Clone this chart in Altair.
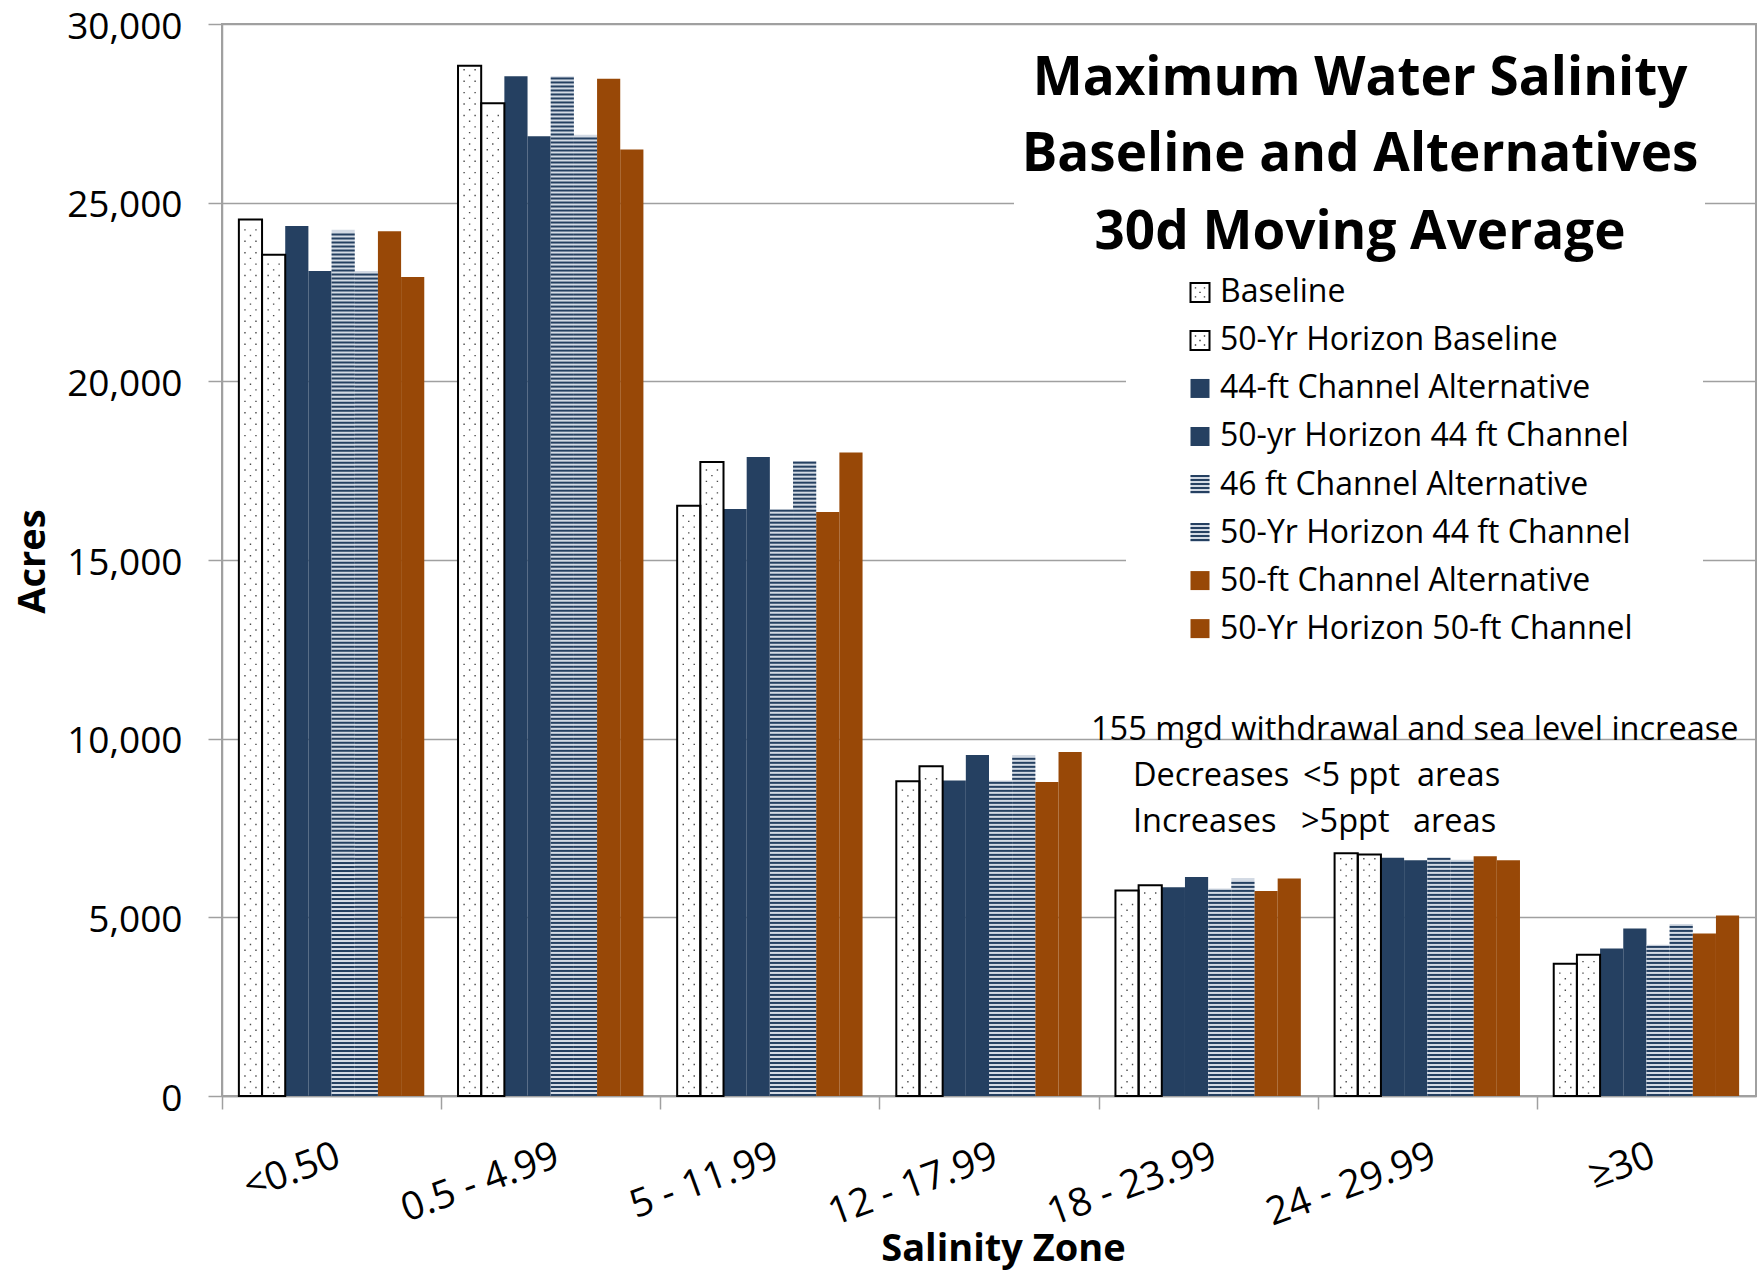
import altair as alt
import pandas as pd

# ---- data -------------------------------------------------------------
zones = ["<0.50", "0.5 - 4.99", "5 - 11.99", "12 - 17.99", "18 - 23.99", "24 - 29.99", "≥30"]

series = [
    "Baseline",
    "50-Yr Horizon Baseline",
    "44-ft Channel Alternative",
    "50-yr Horizon 44 ft Channel",
    "46 ft Channel Alternative",
    "50-Yr Horizon 44 ft Channel",
    "50-ft Channel Alternative",
    "50-Yr Horizon 50-ft Channel",
]

baseline = [24530, 28830, 16520, 8810, 5750, 6790, 3700]
baseline_50yr = [23540, 27780, 17740, 9230, 5900, 6760, 3950]
ch44 = [24350, 28540, 16430, 8830, 5840, 6670, 4130]
ch44_50yr = [23090, 26860, 17880, 9540, 6130, 6600, 4690]
ch46 = [24240, 28540, 16410, 8830, 5810, 6670, 4230]
ch44_50yr_b = [23090, 26900, 17770, 9540, 6100, 6610, 4810]
ch50 = [24200, 28470, 16340, 8790, 5740, 6710, 4550]
ch50_50yr = [22920, 26490, 18010, 9630, 6090, 6600, 5050]

y_ticks = [0, 5000, 10000, 15000, 20000, 25000, 30000]

title_lines = ["Maximum Water Salinity", "Baseline and Alternatives", "30d Moving Average"]

# ---- styling ----------------------------------------------------------
NAVY = "#254061"
BROWN = "#984807"
LIGHT = "#d3dae4"
GRID = "#a0a0a0"
FONT = "Open Sans"

fill_range = ["white", "white", NAVY, NAVY, LIGHT, LIGHT, BROWN, BROWN]
dotted = series[0:2]
striped = series[4:6]

W, H = 1534, 1072

all_values = [baseline, baseline_50yr, ch44, ch44_50yr, ch46, ch44_50yr_b, ch50, ch50_50yr]
df = pd.DataFrame(
    [
        {"zone": z, "series": s, "acres": v}
        for s, vals in zip(series, all_values)
        for z, v in zip(zones, vals)
    ]
)

# ---- scales / encodings -------------------------------------------------
x_scale = alt.Scale(domain=zones, paddingInner=0.154, paddingOuter=0.077)
half_gap = round(0.154 * (W / 7.0) / 2, 2)

x_axis = alt.Axis(
    title="Salinity Zone",
    titleFont=FONT, titleFontSize=38, titleFontWeight="bold", titleColor="black",
    titleX=781, titleY=164, titleAlign="center", titleBaseline="alphabetic", titleAngle=0,
    labelFont=FONT, labelFontSize=39, labelColor="black",
    labelAngle=340, labelAlign="right", labelBaseline="top",
    labelPadding=27, labelLimit=400, labelOverlap=False,
    bandPosition=0, tickOffset=-half_gap, labelOffset=half_gap,
    tickSize=13, tickColor=GRID, tickWidth=1.5,
    domainColor=GRID, domainWidth=1.5, grid=False,
)

y_scale = alt.Scale(domain=[0, 30000], nice=False)
y_axis = alt.Axis(
    title="Acres", values=y_ticks, format=",d",
    titleFont=FONT, titleFontSize=38, titleFontWeight="bold", titleColor="black",
    titleAngle=270, titleX=-178, titleY=537, titleAlign="center", titleBaseline="alphabetic",
    labelFont=FONT, labelFontSize=37, labelColor="black", labelPadding=26, labelOffset=3,
    tickSize=14, tickColor=GRID, tickWidth=1.5,
    domainColor=GRID, domainWidth=1.5,
    grid=True, gridColor=GRID, gridWidth=1.3,
)

# every plot layer carries the same axis definitions so the shared axes merge cleanly
x_enc = alt.X("zone:N", scale=x_scale, axis=x_axis)
y_enc = alt.Y("acres:Q", scale=y_scale, axis=y_axis, stack=None)
x_off = alt.XOffset("series:N", scale=alt.Scale(domain=series, paddingInner=0, paddingOuter=0))
fill_enc = alt.Fill("series:N", scale=alt.Scale(domain=series, range=fill_range), legend=None)


def dot(cx, cy, s=1.4):
    return f"M{cx - s / 2:.2f},{cy - s / 2:.2f}h{s}v{s}h-{s}Z"


# stipple tile (two staggered rows) and stripe/dot legend swatches, in pixel units (size=4)
stipple = " ".join([dot(-5.5, -2.85), dot(5.5, -2.85), dot(0, 2.85)])
swatch_dots = " ".join([dot(-4.5, -4.5), dot(4.5, -4.5), dot(0, 0), dot(-4.5, 4.5), dot(4.5, 4.5)])
swatch_stripes = " ".join([f"M-9.5,{y}h19v2h-19Z" for y in (-9.5, -5.5, -1.5, 2.5, 6.5)])

# ---- plot layers --------------------------------------------------------
bars = alt.Chart(df).mark_bar().encode(x=x_enc, xOffset=x_off, y=y_enc, fill=fill_enc)

# horizontal navy stripes, 2 px every 4 px, inside the striped bars
stripes = (
    alt.Chart(df)
    .transform_filter(alt.FieldOneOfPredicate(field="series", oneOf=striped))
    .transform_calculate(acres="sequence(0, datum.acres - 56, 112)")
    .transform_flatten(["acres"])
    .transform_calculate(top="datum.acres + 56")
    .mark_bar(color=NAVY)
    .encode(x=x_enc, xOffset=x_off, y=y_enc, y2="top:Q")
)

# stipple inside the two baseline bars
dots = (
    alt.Chart(df)
    .transform_filter(alt.FieldOneOfPredicate(field="series", oneOf=dotted))
    .transform_calculate(acres="sequence(160, datum.acres - 150, 320)")
    .transform_flatten(["acres"])
    .mark_point(shape=stipple, filled=True, size=4, color="#4a4a4a", opacity=1, strokeWidth=0)
    .encode(x=x_enc, xOffset=x_off, y=y_enc)
)

outlines = (
    alt.Chart(df)
    .transform_filter(alt.FieldOneOfPredicate(field="series", oneOf=dotted))
    .mark_bar(fillOpacity=0, stroke="black", strokeWidth=2)
    .encode(x=x_enc, xOffset=x_off, y=y_enc)
)

# ---- title / legend backgrounds and text ---------------------------------
one = pd.DataFrame({"k": [0]})

boxes = [
    alt.Chart(one).mark_rect(color="white").encode(
        x=alt.value(792), x2=alt.value(1483), y=alt.value(10), y2=alt.value(246)
    ),
    alt.Chart(one).mark_rect(color="white").encode(
        x=alt.value(904), x2=alt.value(1481), y=alt.value(244), y2=alt.value(634)
    ),
]

title_marks = [
    alt.Chart(one).mark_text(
        font=FONT, fontSize=53, fontWeight="bold", color="black", align="center", baseline="alphabetic"
    ).encode(x=alt.value(1138), y=alt.value(yy), text=alt.value(t))
    for t, yy in zip(title_lines, [70.5, 147, 225])
]

note_pieces = [
    ("155 mgd withdrawal and sea level increase", 869, 716),
    ("Decreases", 911, 762),
    ("<5 ppt", 1081, 762),
    ("areas", 1195, 762),
    ("Increases", 911, 808),
    (">5ppt", 1079, 808),
    ("areas", 1191, 808),
]
note_marks = [
    alt.Chart(one).mark_text(
        font=FONT, fontSize=32.5, color="black", align="left", baseline="alphabetic"
    ).encode(x=alt.value(xx), y=alt.value(yy), text=alt.value(t))
    for t, xx, yy in note_pieces
]

# ---- legend (one swatch + label per series) ------------------------------
LEG_X, LEG_TEXT_X, LEG_TOP, LEG_STEP = 978, 998, 268.4, 48.03
legend_marks = []
for i, (name, colour) in enumerate(zip(series, fill_range)):
    yy = LEG_TOP + i * LEG_STEP
    pos = dict(x=alt.value(LEG_X), y=alt.value(yy))
    legend_marks.append(
        alt.Chart(one).mark_square(size=361, opacity=1, strokeWidth=0, color=colour).encode(**pos)
    )
    if name in striped:
        legend_marks.append(
            alt.Chart(one).mark_point(
                shape=swatch_stripes, filled=True, size=4, color=NAVY, opacity=1, strokeWidth=0
            ).encode(**pos)
        )
    if name in dotted:
        legend_marks.append(
            alt.Chart(one).mark_point(
                shape=swatch_dots, filled=True, size=4, color="#333333", opacity=1, strokeWidth=0
            ).encode(**pos)
        )
        legend_marks.append(
            alt.Chart(one).mark_square(
                size=361, filled=False, color="black", strokeWidth=2, opacity=1
            ).encode(**pos)
        )
    legend_marks.append(
        alt.Chart(one).mark_text(
            font=FONT, fontSize=32, color="black", align="left", baseline="middle"
        ).encode(x=alt.value(LEG_TEXT_X), y=alt.value(yy), text=alt.value(name))
    )

chart = (
    alt.layer(bars, stripes, dots, outlines, *boxes, *title_marks, *legend_marks, *note_marks)
    .properties(
        width=W,
        height=H,
        padding={"left": 222, "top": 24, "right": 6, "bottom": 175},
        autosize=alt.AutoSizeParams(type="none"),
        background="white",
    )
    .configure_view(stroke=GRID, strokeWidth=2)
)

chart.save("out.html", embed_options={"renderer": "svg", "actions": False})
